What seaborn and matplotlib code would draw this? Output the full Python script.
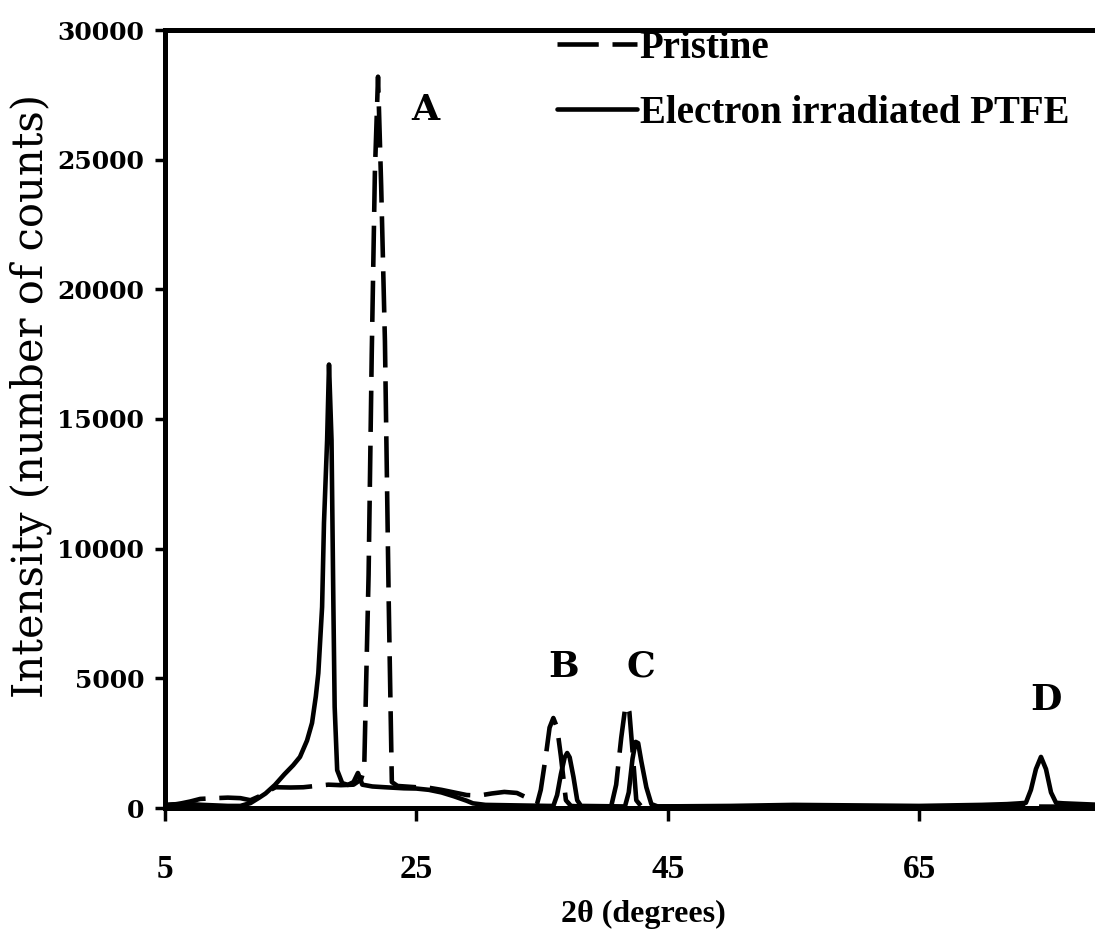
import numpy as np
import pandas as pd
import matplotlib
matplotlib.use("Agg")
import matplotlib.pyplot as plt
import seaborn as sns

# X-ray diffraction patterns of PTFE before and after electron irradiation
pristine_2theta = [5.0, 6.0, 7.0, 7.8, 9.0, 10.0, 11.0, 11.8, 12.5, 13.2, 13.8, 15.0,
                   16.0, 17.0, 18.0, 19.0, 20.0, 20.6, 20.85, 21.2, 21.45, 21.7, 21.95,
                   22.2, 22.5, 22.8, 23.05, 23.5, 25.0, 26.0, 27.0, 28.0, 29.0, 30.0,
                   31.0, 32.0, 33.0, 34.0, 34.6, 34.9, 35.3, 35.6, 35.9, 36.2, 36.5,
                   36.9, 37.3, 38.0, 40.5, 40.9, 41.3, 41.6, 41.75, 41.95, 42.2, 42.5,
                   42.9, 50.0, 60.0, 70.0, 79.0]
pristine_counts = [100, 150, 250, 350, 380, 400, 380, 300, 450, 650, 800, 790,
                   800, 850, 900, 880, 900, 1100, 1500, 9000, 17500, 24500, 28200,
                   24000, 18000, 8000, 1000, 850, 800, 780, 700, 600, 500, 480,
                   560, 620, 580, 350, 150, 700, 2000, 3100, 3470, 3100, 2000,
                   300, 80, 60, 60, 900, 2700, 3800, 3970, 3700, 2200, 300,
                   60, 60, 50, 60, 50]

irradiated_2theta = [5.0, 6.0, 7.0, 8.0, 9.0, 10.0, 11.0, 11.8, 12.5, 13.0, 13.75, 14.5,
                     15.2, 15.74, 16.3, 16.7, 17.0, 17.2, 17.5, 17.65, 17.9, 18.05,
                     18.25, 18.4, 18.5, 18.7, 19.1, 19.55, 20.0, 20.35, 20.7, 21.5,
                     22.5, 24.0, 25.0, 26.0, 27.0, 28.0, 29.0, 29.5, 30.5, 33.0, 35.5,
                     35.9, 36.2, 36.5, 36.8, 37.0, 37.2, 37.5, 37.8, 38.1, 41.6, 41.9,
                     42.2, 42.45, 42.65, 42.9, 43.3, 43.7, 44.2, 50.0, 55.0, 60.0, 65.0,
                     70.0, 72.0, 73.0, 73.5, 73.9, 74.3, 74.7, 75.1, 75.5, 75.9, 76.5,
                     79.0]
irradiated_counts = [120, 150, 150, 120, 100, 80, 80, 190, 400, 560, 890, 1300,
                     1650, 1970, 2600, 3280, 4300, 5200, 7750, 10990, 14190, 17100,
                     14190, 7750, 3900, 1460, 960, 890, 1000, 1350, 900, 830,
                     800, 760, 750, 700, 600, 450, 280, 180, 120, 100, 80,
                     80, 500, 1300, 1950, 2120, 1950, 1200, 300, 80, 60, 600,
                     1900, 2550, 2500, 1800, 800, 150, 60, 80, 120, 100, 80,
                     120, 150, 180, 200, 700, 1500, 1970, 1500, 600, 200, 180,
                     130]

series_names = ["Pristine", "Electron irradiated PTFE"]
peak_labels = ["A", "B", "C", "D"]
peak_label_x = [25.7, 36.7, 42.9, 75.1]
peak_label_y = [26900, 5450, 5450, 4150]

x_ticks = [5, 25, 45, 65]
y_ticks = [0, 5000, 10000, 15000, 20000, 25000, 30000]

df = pd.concat([
    pd.DataFrame({"two_theta": pristine_2theta, "counts": pristine_counts,
                  "sample": series_names[0]}),
    pd.DataFrame({"two_theta": irradiated_2theta, "counts": irradiated_counts,
                  "sample": series_names[1]}),
], ignore_index=True)

sns.set_style("ticks")
plt.rcParams["font.family"] = ["DejaVu Serif", "DejaVu Sans"]
plt.rcParams.update({"text.color": "black", "axes.labelcolor": "black",
                     "xtick.color": "black", "ytick.color": "black"})

fig = plt.figure(figsize=(10.95, 9.44), dpi=100)
ax = fig.add_axes([165 / 1095, 1 - 808 / 944, 1 - 165 / 1095, (808 - 30) / 944])

sns.lineplot(data=df, x="two_theta", y="counts", style="sample",
             style_order=series_names,
             dashes={series_names[0]: (9, 3), series_names[1]: ""},
             color="black", linewidth=3.3, estimator=None, sort=False, ax=ax)

ax.set_xlim(5, 79)
ax.set_ylim(0, 30000)
ax.set_xticks(x_ticks)
ax.set_yticks(y_ticks)

for side in ["left", "bottom", "top"]:
    ax.spines[side].set_linewidth(3.6)
    ax.spines[side].set_color("black")
ax.spines["right"].set_visible(False)

ax.tick_params(axis="y", direction="out", length=7, width=2.5, pad=8)
ax.tick_params(axis="x", direction="out", length=9, width=2.5, pad=24)
for lab in ax.get_yticklabels():
    lab.set_fontfamily("DejaVu Serif")
    lab.set_fontweight("bold")
    lab.set_fontsize(18)
for lab in ax.get_xticklabels():
    lab.set_fontfamily("Liberation Serif")
    lab.set_fontweight("bold")
    lab.set_fontsize(24)

ax.set_ylabel("Intensity (number of counts)", fontfamily="DejaVu Serif",
              fontsize=30)
ax.yaxis.set_label_coords(-0.122, 0.53)
ax.set_xlabel("2θ (degrees)", fontfamily="Liberation Serif", fontweight="bold",
              fontsize=23)
ax.xaxis.set_label_coords(0.514, -0.118)

for lab, px, py in zip(peak_labels, peak_label_x, peak_label_y):
    ax.text(px, py, lab, ha="center", va="center", fontfamily="DejaVu Serif",
            fontweight="bold", fontsize=26)

leg = ax.legend(loc="upper left", bbox_to_anchor=(557 / 1095, 1 - 30 / 944),
                bbox_transform=fig.transFigure, frameon=False,
                handlelength=2.05, handletextpad=0.08, labelspacing=0.72,
                borderaxespad=0, borderpad=0,
                prop={"family": "Liberation Serif", "weight": "bold", "size": 28})
for line in leg.get_lines():
    line.set_linewidth(3.3)
    line.set_color("black")

fig.savefig("out.png", dpi=100)
